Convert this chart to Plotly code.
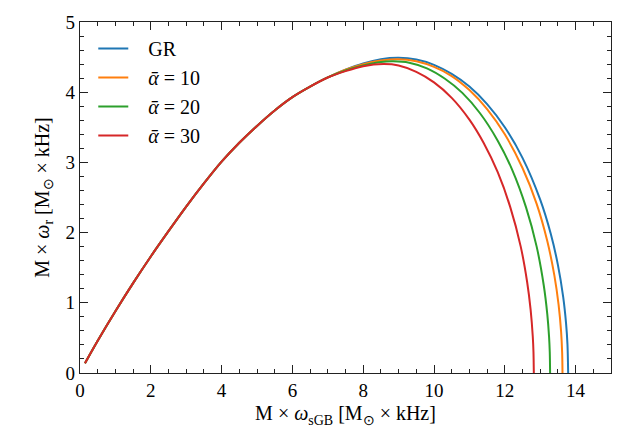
import plotly.graph_objects as go

# Shared rising branch (all four curves coincide here)
x_common = [0.14, 0.5, 1.0, 1.5, 2.0, 2.5, 3.0, 3.5, 4.0, 4.5, 5.0, 5.5, 6.0, 6.5, 7.0]
y_common = [0.14, 0.46, 0.88, 1.28, 1.66, 2.02, 2.37, 2.70, 3.01, 3.28, 3.52, 3.74, 3.93, 4.08, 4.21]

x_gr = [7.5, 8.0, 8.5, 9.0, 9.5, 10.0, 10.5, 11.0, 11.5, 12.0, 12.5, 13.0, 13.3, 13.5, 13.65, 13.73, 13.77, 13.79]
y_gr = [4.32, 4.41, 4.47, 4.49, 4.465, 4.39, 4.26, 4.08, 3.83, 3.50, 3.065, 2.47, 1.98, 1.54, 1.08, 0.71, 0.41, 0.0]

x_a10 = [7.5, 8.0, 8.5, 8.99, 9.5, 10.0, 10.5, 11.0, 11.5, 12.0, 12.5, 12.9, 13.2, 13.4, 13.52, 13.59, 13.62, 13.63]
y_a10 = [4.32, 4.40, 4.45, 4.47, 4.44, 4.36, 4.23, 4.03, 3.76, 3.40, 2.92, 2.41, 1.88, 1.39, 0.97, 0.59, 0.29, 0.0]

x_a20 = [7.5, 8.0, 8.5, 8.85, 9.3, 9.8, 10.3, 10.8, 11.3, 11.8, 12.2, 12.6, 12.9, 13.1, 13.2, 13.25, 13.27, 13.28]
y_a20 = [4.31, 4.38, 4.43, 4.44, 4.42, 4.34, 4.195, 3.99, 3.70, 3.31, 2.905, 2.36, 1.80, 1.25, 0.84, 0.52, 0.30, 0.0]

x_a30 = [7.5, 8.0, 8.57, 9.0, 9.5, 10.0, 10.5, 11.0, 11.4, 11.8, 12.15, 12.45, 12.63, 12.73, 12.79, 12.81, 12.82]
y_a30 = [4.30, 4.37, 4.40, 4.38, 4.29, 4.14, 3.92, 3.61, 3.28, 2.86, 2.37, 1.80, 1.30, 0.90, 0.52, 0.30, 0.0]

pad = "\u00a0\u00a0\u00a0"
names = [pad + "GR", pad + "<i>\u1fb1</i> = 10", pad + "<i>\u1fb1</i> = 20", pad + "<i>\u1fb1</i> = 30"]
colors = ["#1f77b4", "#ff7f0e", "#2ca02c", "#d62728"]
series = [(x_gr, y_gr), (x_a10, y_a10), (x_a20, y_a20), (x_a30, y_a30)]

fig = go.Figure()
for i, ((xs, ys), name, col) in enumerate(zip(series, names, colors)):
    fig.add_trace(go.Scatter(
        x=x_common + xs, y=y_common + ys, mode="lines", name=name,
        line=dict(color=col, width=2, shape="spline", smoothing=0.8),
        legendgroup=f"g{i}",
    ))

font_family = "Liberation Serif, Times New Roman, serif"
axis_common = dict(
    showgrid=False, zeroline=False, showline=True, linecolor="#222", linewidth=1.3,
    mirror="allticks", ticks="inside", ticklen=8, tickwidth=1.2, tickcolor="#222",
    tickfont=dict(family=font_family, size=19, color="black"),
)

fig.update_layout(
    width=642, height=440,
    margin=dict(l=80, r=31, t=22, b=67),
    paper_bgcolor="white", plot_bgcolor="white",
    font=dict(family=font_family, size=19, color="black"),
    showlegend=True,
    legend=dict(x=0.025, y=0.98, xanchor="left", yanchor="top",
                bgcolor="rgba(0,0,0,0)", font=dict(family=font_family, size=20),
                tracegroupgap=4, traceorder="normal"),
    xaxis=dict(range=[0, 15], dtick=2, tick0=0,
               minor=dict(ticks="inside", dtick=0.5, ticklen=4, tickcolor="#222", tickwidth=1),
               title=dict(text="M × <i>ω</i><sub>sGB</sub> [M<sub>⊙</sub> × kHz]",
                          font=dict(family=font_family, size=20), standoff=6),
               **axis_common),
    yaxis=dict(range=[0, 5], dtick=1, tick0=0,
               minor=dict(ticks="inside", dtick=0.2, ticklen=4, tickcolor="#222", tickwidth=1),
               title=dict(text="M × <i>ω</i><sub>r</sub> [M<sub>⊙</sub> × kHz]",
                          font=dict(family=font_family, size=20), standoff=10),
               **axis_common),
)

fig.write_html("out.html")
